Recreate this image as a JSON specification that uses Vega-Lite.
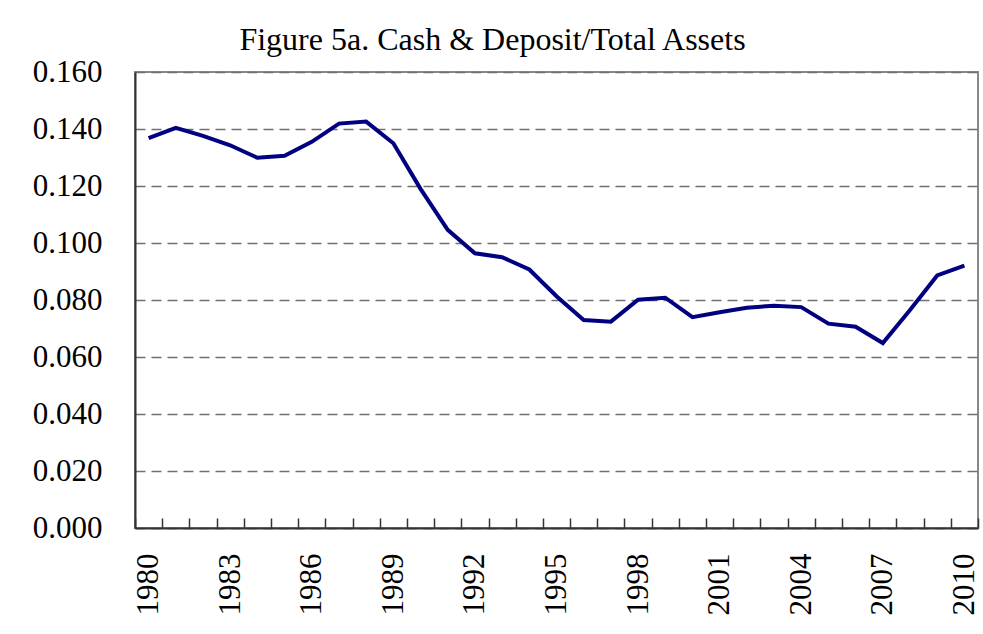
{
  "$schema": "https://vega.github.io/schema/vega-lite/v6.json",
  "autosize": "none",
  "width": 843,
  "height": 456,
  "padding": {"left": 135, "top": 72, "right": 5, "bottom": 106},
  "background": "white",
  "title": {
    "text": "Figure 5a. Cash & Deposit/Total Assets",
    "font": "Liberation Serif",
    "fontSize": 32,
    "fontWeight": "normal",
    "color": "black",
    "anchor": "middle",
    "baseline": "bottom",
    "dx": -64,
    "dy": 35,
    "offset": 2
  },
  "data": {
    "values": [
      {"year": 1980, "value": 0.1368},
      {"year": 1981, "value": 0.1404},
      {"year": 1982, "value": 0.1376},
      {"year": 1983, "value": 0.1343},
      {"year": 1984, "value": 0.1299},
      {"year": 1985, "value": 0.1306},
      {"year": 1986, "value": 0.1355},
      {"year": 1987, "value": 0.1419},
      {"year": 1988, "value": 0.1426},
      {"year": 1989, "value": 0.1350},
      {"year": 1990, "value": 0.1190},
      {"year": 1991, "value": 0.1046},
      {"year": 1992, "value": 0.0964},
      {"year": 1993, "value": 0.0950},
      {"year": 1994, "value": 0.0907},
      {"year": 1995, "value": 0.0813},
      {"year": 1996, "value": 0.0730},
      {"year": 1997, "value": 0.0724},
      {"year": 1998, "value": 0.0801},
      {"year": 1999, "value": 0.0808},
      {"year": 2000, "value": 0.0740},
      {"year": 2001, "value": 0.0757},
      {"year": 2002, "value": 0.0773},
      {"year": 2003, "value": 0.0780},
      {"year": 2004, "value": 0.0775},
      {"year": 2005, "value": 0.0717},
      {"year": 2006, "value": 0.0706},
      {"year": 2007, "value": 0.0649},
      {"year": 2008, "value": 0.0765},
      {"year": 2009, "value": 0.0886},
      {"year": 2010, "value": 0.0921}
    ]
  },
  "mark": {"type": "line", "color": "#000080", "strokeWidth": 4, "strokeJoin": "miter"},
  "encoding": {
    "x": {
      "field": "year",
      "type": "ordinal",
      "scale": {"type": "band", "paddingInner": 0, "paddingOuter": 0},
      "axis": {
        "title": null,
        "tickBand": "extent",
        "tickSize": -10,
        "tickColor": "#333333",
        "tickWidth": 1.5,
        "domainColor": "#333333",
        "domainWidth": 2,
        "labelAngle": -90,
        "labelAlign": "right",
        "labelBaseline": "middle",
        "labelFont": "Liberation Serif",
        "labelFontSize": 31,
        "labelColor": "black",
        "labelPadding": 35,
        "labelOverlap": false,
        "labelExpr": "(datum.value - 1980) % 3 == 0 ? datum.label : ''",
        "grid": false
      }
    },
    "y": {
      "field": "value",
      "type": "quantitative",
      "scale": {"domain": [0, 0.16], "nice": false},
      "axis": {
        "title": null,
        "values": [0, 0.02, 0.04, 0.06, 0.08, 0.1, 0.12, 0.14, 0.16],
        "format": ".3f",
        "tickSize": 0,
        "labelPadding": 33,
        "labelFont": "Liberation Serif",
        "labelFontSize": 31,
        "labelColor": "black",
        "domainColor": "#333333",
        "domainWidth": 2,
        "grid": true,
        "gridColor": "#707070",
        "gridWidth": 1.5,
        "gridDash": [10, 6]
      }
    }
  },
  "config": {
    "view": {"stroke": "#888888", "strokeWidth": 2}
  }
}
